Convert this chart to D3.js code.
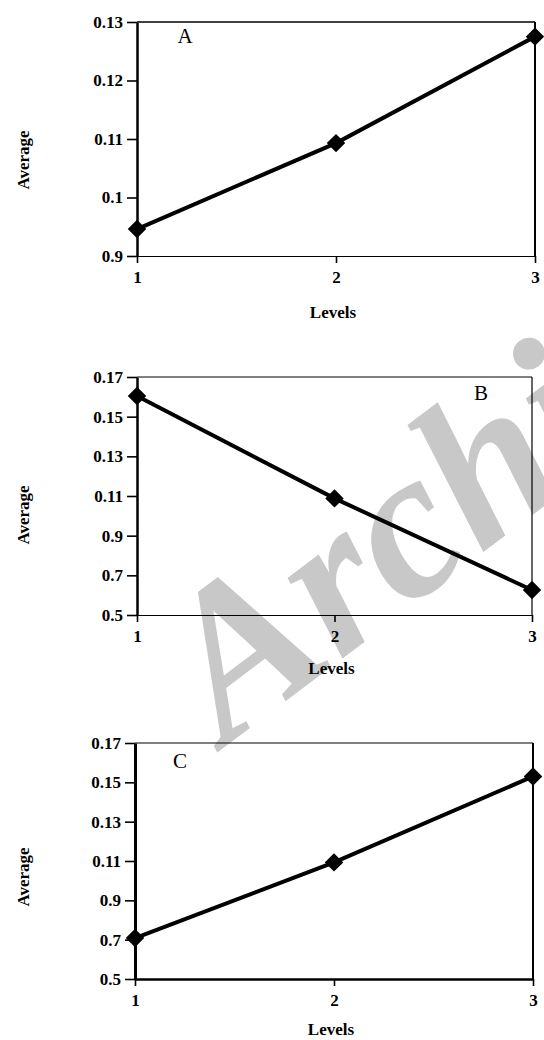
<!DOCTYPE html>
<html>
<head>
<meta charset="utf-8">
<script src="https://cdn.jsdelivr.net/npm/d3@7"></script>
<style>
  body { margin: 0; background: #fff; }
  svg text { font-family: "Liberation Serif", "Times New Roman", serif; }
</style>
</head>
<body>
<script>
// three small line charts stacked: average by level

const levels = [1, 2, 3];

const avgA = [0.0946, 0.1093, 0.1275];
const avgB = [0.1604, 0.1088, 0.0626];
const avgC = [0.0708, 0.1093, 0.1530];

// the original figure prints odd tick labels, keep them as printed
const ticksA = [0.09, 0.10, 0.11, 0.12, 0.13];
const tickLabelsA = ["0.9", "0.1", "0.11", "0.12", "0.13"];
const ticksBC = [0.05, 0.07, 0.09, 0.11, 0.13, 0.15, 0.17];
const tickLabelsBC = ["0.5", "0.7", "0.9", "0.11", "0.13", "0.15", "0.17"];

const panelNames = ["A", "B", "C"];

const width = 544, height = 1040;

const svg = d3.select("body").append("svg")
    .attr("width", width)
    .attr("height", height);

// watermark behind everything (cut at the right edge, as in the source)
svg.append("text")
    .attr("transform", "translate(226,746) rotate(-37)")
    .attr("fill", "#c8c8c8")
    .style("font-size", "212px")
    .style("font-weight", "bold")
    .style("font-style", "italic")
    .text("Archive");

const panels = [
    { name: panelNames[0], values: avgA, ticks: ticksA, labels: tickLabelsA, domain: [0.09, 0.13],
      left: 137, right: 535, top: 22, bottom: 256,
      letter: [185, 43], avgY: 160, levelsY: 318,
      w: { left: 2.5, bottom: 1.2, top: 1.5, right: 2 } },
    { name: panelNames[1], values: avgB, ticks: ticksBC, labels: tickLabelsBC, domain: [0.05, 0.17],
      left: 137, right: 532, top: 377, bottom: 615,
      letter: [481, 400], avgY: 515, levelsY: 674,
      w: { left: 2.5, bottom: 1.2, top: 1.2, right: 1.2 } },
    { name: panelNames[2], values: avgC, ticks: ticksBC, labels: tickLabelsBC, domain: [0.05, 0.17],
      left: 135, right: 533, top: 743, bottom: 979,
      letter: [180, 768], avgY: 877, levelsY: 1035,
      w: { left: 3, bottom: 2.5, top: 1.2, right: 2 } }
];

panels.forEach(p => {
    const x = d3.scaleLinear().domain([1, 3]).range([p.left, p.right]);
    const y = d3.scaleLinear().domain(p.domain).range([p.bottom, p.top]);
    const g = svg.append("g");

    // box: top and right edges
    g.append("line")
        .attr("x1", x(1)).attr("x2", x(3))
        .attr("y1", y(p.domain[1])).attr("y2", y(p.domain[1]))
        .attr("stroke", "#000").attr("stroke-width", p.w.top);
    g.append("line")
        .attr("x1", x(3)).attr("x2", x(3))
        .attr("y1", y(p.domain[1])).attr("y2", y(p.domain[0]))
        .attr("stroke", "#000").attr("stroke-width", p.w.right);

    const yAxis = g.append("g")
        .attr("transform", `translate(${p.left},0)`)
        .call(d3.axisLeft(y)
            .tickValues(p.ticks)
            .tickFormat((d, i) => p.labels[i])
            .tickSize(10)
            .tickSizeOuter(0)
            .tickPadding(4));
    yAxis.select(".domain").attr("stroke-width", p.w.left);

    const xAxis = g.append("g")
        .attr("transform", `translate(0,${p.bottom})`)
        .call(d3.axisBottom(x)
            .tickValues(levels)
            .tickFormat(d3.format("d"))
            .tickSize(7)
            .tickSizeOuter(0)
            .tickPadding(8));
    xAxis.select(".domain").attr("stroke-width", p.w.bottom);

    g.selectAll(".tick line").attr("stroke-width", 1.6);
    g.selectAll(".tick text")
        .attr("fill", "#000")
        .style("font-size", "17px")
        .style("font-weight", "bold");

    // line + markers
    const line = d3.line()
        .x((d, i) => x(levels[i]))
        .y(d => y(d));

    g.append("path")
        .datum(p.values)
        .attr("fill", "none")
        .attr("stroke", "#000")
        .attr("stroke-width", 4)
        .attr("d", line);

    g.selectAll(".pt")
        .data(p.values)
        .join("path")
        .attr("class", "pt")
        .attr("transform", (d, i) => `translate(${x(levels[i])},${y(d)}) rotate(45)`)
        .attr("d", d3.symbol(d3.symbolSquare, 170))
        .attr("fill", "#000");

    // panel letter
    g.append("text")
        .attr("x", p.letter[0])
        .attr("y", p.letter[1])
        .attr("text-anchor", "middle")
        .style("font-size", "21px")
        .text(p.name);

    // axis titles
    g.append("text")
        .attr("x", (p.left + p.right) / 2 - 3)
        .attr("y", p.levelsY)
        .attr("text-anchor", "middle")
        .style("font-size", "17px")
        .style("font-weight", "bold")
        .text("Levels");

    g.append("text")
        .attr("transform", `translate(29,${p.avgY}) rotate(-90)`)
        .attr("text-anchor", "middle")
        .style("font-size", "17px")
        .style("font-weight", "bold")
        .text("Average");
});
</script>
</body>
</html>
